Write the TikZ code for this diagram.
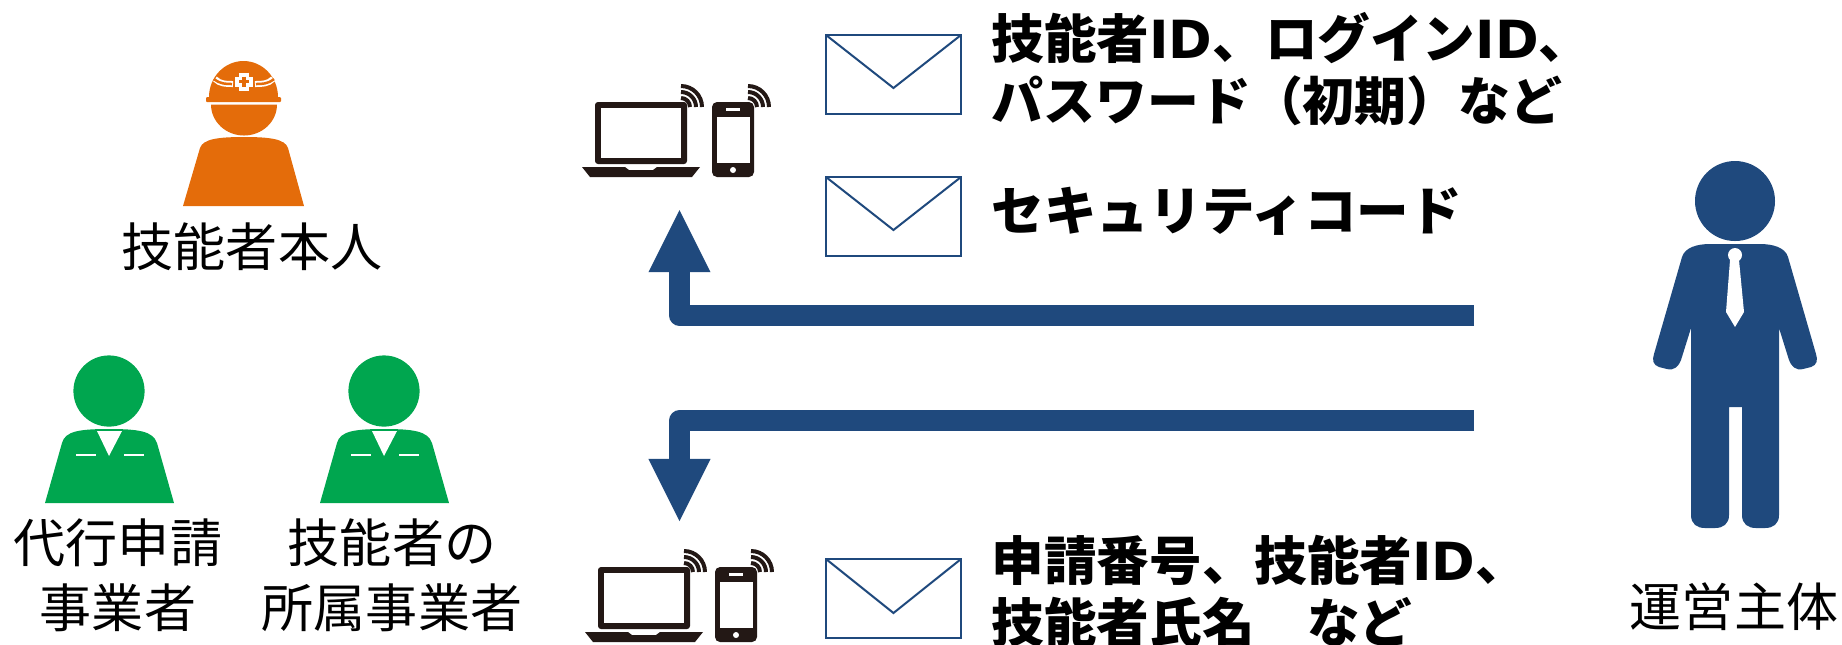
\documentclass[tikz,border=0pt]{standalone}
\usepackage{fontspec}
\setmainfont{Noto Sans CJK JP}
\newfontfamily\idfont{DejaVu Sans}
\usetikzlibrary{arrows.meta}
\definecolor{navyblue}{HTML}{1F497D}
\definecolor{workerorange}{HTML}{E46C0A}
\definecolor{staffgreen}{HTML}{00A64F}
\definecolor{devicedark}{HTML}{231815}
\tikzset{
	mailbox/.style={draw=navyblue,line width=0.02cm,fill=white,inner sep=0pt,outer sep=0pt,minimum width=1.35cm,minimum height=0.79cm},
	mailfold/.style={draw=navyblue,line width=0.02cm},
	plainlabel/.style={inner sep=0pt,align=center,font=\fontsize{14.8}{17.6}\selectfont},
	boldlabel/.style={inner sep=0pt,align=left,anchor=west,font=\fontsize{14.95}{17.6}\selectfont\bfseries},
	bigarrow/.style={draw=navyblue,line width=0.205cm,line join=round,-{Triangle[length=0.62cm,width=0.62cm,line width=0pt]}},
}
\newcommand{\idtext}[1]{{\idfont\bfseries #1}}
\begin{document}
\begin{tikzpicture}[x=0.01cm,y=-0.01cm]
	\useasboundingbox (0,0) rectangle (1842,644);
	% worker with helmet
	\fill[workerorange] (209,97) arc (180:360:34.5 and 36) -- cycle;
	\fill[workerorange,rounded corners=0.01cm] (206,97) rectangle (281,102);
	\fill[workerorange] (211,104.5) arc (180:0:33 and 31) -- cycle;
	\fill[workerorange] (183,206) -- (200,148) .. controls (203,139) and (218,137) .. (244,137)
		.. controls (270,137) and (285,139) .. (288,148) -- (304,206) -- cycle;
	\draw[white,line width=0.06cm] (215,79) .. controls (220,84) and (226,84) .. (233,84);
	\draw[white,line width=0.06cm] (273,79) .. controls (268,84) and (262,84) .. (255,84);
	\draw[workerorange,line width=0.025cm] (214,79) .. controls (220,84) and (226,84) .. (232,84);
	\draw[workerorange,line width=0.025cm] (274,79) .. controls (268,84) and (262,84) .. (256,84);
	\draw[white,line width=0.1cm] (235,81.5) -- (253,81.5) (244,72.5) -- (244,90.5);
	\draw[workerorange,line width=0.035cm] (239,81.5) -- (249,81.5) (244,76.5) -- (244,86.5);
	\node[plainlabel] (workerlabel) at (252,247) {技能者本人};
	% two green staff figures
	\foreach \dx in {0,275} {
		\begin{scope}[shift={(\dx,0)}]
			\fill[staffgreen] (109,391) circle (35.6);
			\fill[staffgreen] (45,503) -- (62,443) .. controls (65,431) and (80,429) .. (109,429)
				.. controls (138,429) and (153,431) .. (157,443) -- (174,503) -- cycle;
			\fill[white] (97,431) -- (122,431) -- (109,456) -- cycle;
			\draw[white,line width=0.02cm] (76,454.5) -- (96,454.5);
			\draw[white,line width=0.02cm] (124,454.5) -- (144,454.5);
		\end{scope}
	}
	\node[plainlabel] (agentlabel) at (118,575) {代行申請\\[0.9pt]事業者};
	\node[plainlabel] (companylabel) at (392,575) {技能者の\\[0.9pt]所属事業者};
	% laptop and phone, upper and lower
	\foreach \dx/\dy in {0/0,3/465} {
		\begin{scope}[shift={(\dx,\dy)}]
			\fill[devicedark,rounded corners=0.03cm] (595,102) rectangle (687,164);
			\fill[white] (601,108) rectangle (681,158);
			\fill[devicedark] (582,167) -- (625,167) -- (629,170) -- (653,170) -- (657,167) -- (700,167)
				-- (692,177) -- (590,177) -- cycle;
			\fill[devicedark,rounded corners=0.05cm] (712,102) rectangle (754,177);
			\fill[white] (717,117) rectangle (750,163);
			\fill[white] (726,107.5) rectangle (740,110.5);
			\fill[white] (733,170) circle (3);
			\foreach \wx in {681,748} {
				\foreach \wr in {9,15,21} {
					\draw[devicedark,line width=0.04cm] (\wx+\wr,107) arc (0:-90:\wr);
				}
			}
		\end{scope}
	}
	% mail envelopes
	\node[mailbox] (mailone) at (893.5,74.5) {};
	\draw[mailfold] (mailone.north west) -- ++(67.5,53) -- (mailone.north east);
	\node[mailbox] (mailtwo) at (893.5,216.5) {};
	\draw[mailfold] (mailtwo.north west) -- ++(67.5,53) -- (mailtwo.north east);
	\node[mailbox] (mailthree) at (893.5,598.5) {};
	\draw[mailfold] (mailthree.north west) -- ++(67.5,54) -- (mailthree.north east);
	\node[boldlabel] (logintext) at (991,69.5) {技能者\idtext{ID}、ログイン\idtext{ID}、\\{\fontsize{14.75}{17.6}\selectfont パスワード（初期）など}};
	\node[boldlabel] (codetext) at (991,211) {セキュリティコード};
	\node[boldlabel] (applytext) at (991,591) {申請番号、技能者\idtext{ID}、\\技能者氏名　など};
	% manager figure
	\fill[navyblue] (1735,201) circle (40);
	\fill[navyblue] (1691,328) -- (1691,515) .. controls (1691,524) and (1697,528) .. (1705,528) -- (1715,528)
		.. controls (1723,528) and (1729,524) .. (1729,515) -- (1729,407) -- (1742,407) -- (1742,515)
		.. controls (1742,524) and (1748,528) .. (1756,528) -- (1765,528) .. controls (1773,528) and (1779,524) .. (1779,515)
		-- (1779,328) -- (1789,360) .. controls (1791,366) and (1796,371) .. (1803,369) -- (1811,367)
		.. controls (1817,365) and (1818,360) .. (1816,354) -- (1788,257) .. controls (1785,247) and (1772,244) .. (1760,244)
		-- (1710,244) .. controls (1698,244) and (1685,247) .. (1682,257) -- (1654,354)
		.. controls (1652,360) and (1653,365) .. (1659,367) -- (1667,369) .. controls (1674,371) and (1679,366) .. (1681,360) -- cycle;
	\fill[white] (1735,255) circle (7);
	\fill[white] (1730,260) -- (1726,312) -- (1735,327) -- (1744,312) -- (1739,260) -- cycle;
	\node[plainlabel] (managerlabel) at (1734,607) {運営主体};
	% arrows from manager side to devices
	\coordinate (sendup) at (1474,315.5);
	\coordinate (uptip) at (679.5,210);
	\coordinate (senddown) at (1474,420.5);
	\coordinate (downtip) at (679.5,521);
	\draw[bigarrow] (sendup) -| (uptip);
	\draw[bigarrow] (senddown) -| (downtip);
\end{tikzpicture}
\end{document}
